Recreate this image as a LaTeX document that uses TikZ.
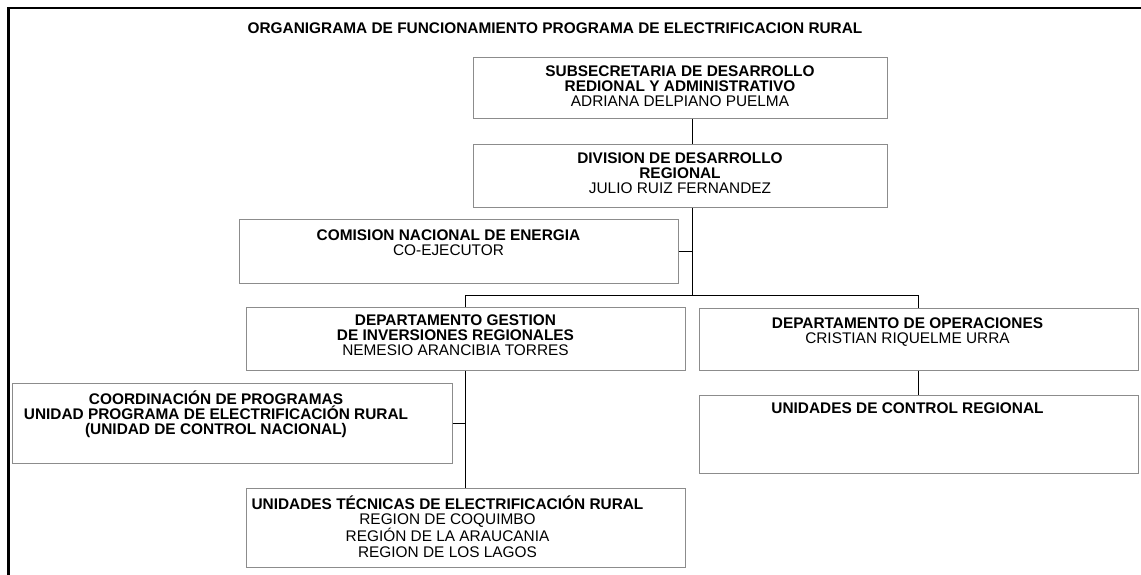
\documentclass[tikz,border=0pt]{standalone}
\usepackage{fontspec}
\setmainfont{Liberation Sans}
\definecolor{boxgray}{RGB}{140,140,140}
\tikzset{
    orgbox/.style 2 args={draw=boxgray, line width=1pt, inner sep=0pt,
        minimum width=#1, minimum height=#2},
    unittext/.style={anchor=north, align=center, inner sep=0pt, yshift=-8pt},
    link/.style={draw, line width=0.9pt},
}
\begin{document}
\begin{tikzpicture}[x=1pt,y=-1pt]
    \useasboundingbox (0,0) rectangle (1141,575);
    \begin{scope}[font=\fontsize{15.4}{15.2}\selectfont]
    % Frame and title:
    \draw [line width=2.4pt] (1141,8) -- (8.5,8) -- (8.5,575);
    \node [inner sep=0pt] (title) at (555,28)
        {\textbf{ORGANIGRAMA DE FUNCIONAMIENTO PROGRAMA DE ELECTRIFICACION RURAL}};

    % Boxes:
    % the text of each box hangs from its top edge as a label
    \node [orgbox={414pt}{61pt}, label={[unittext]north:{\textbf{SUBSECRETARIA DE DESARROLLO}\\
        \textbf{REDIONAL Y ADMINISTRATIVO}\\ ADRIANA DELPIANO PUELMA}}] (subsec) at (680,88.5) {};
    \node [orgbox={414pt}{62pt}, label={[unittext]north:{\textbf{DIVISION DE DESARROLLO}\\
        \textbf{REGIONAL}\\ JULIO RUIZ FERNANDEZ}}] (division) at (680,176) {};
    \node [orgbox={439pt}{64pt}, label={[unittext, xshift=-10pt, yshift=-3pt]north:{\textbf{COMISION NACIONAL DE ENERGIA}\\
        CO-EJECUTOR}}] (comision) at (458.5,251) {};
    \node [orgbox={439pt}{63pt}, label={[unittext, xshift=-10pt]north:{\textbf{DEPARTAMENTO GESTION}\\
        \textbf{DE INVERSIONES REGIONALES}\\ NEMESIO ARANCIBIA TORRES}}] (gestion) at (465.5,338.5) {};
    \node [orgbox={439pt}{62pt}, label={[unittext, xshift=-11pt, yshift=-2pt]north:{\textbf{DEPARTAMENTO DE OPERACIONES}\\
        CRISTIAN RIQUELME URRA}}] (operaciones) at (918.5,339) {};
    \node [orgbox={439pt}{78pt}, label={[unittext, xshift=-11pt]north:{\textbf{UNIDADES DE CONTROL REGIONAL}}}]
        (control) at (918.5,434) {};
    \node [orgbox={440pt}{80pt}, label={[unittext, xshift=-16pt]north:{\textbf{COORDINACIÓN DE PROGRAMAS}\\
        \textbf{UNIDAD PROGRAMA DE ELECTRIFICACIÓN RURAL}\\
        \textbf{(UNIDAD DE CONTROL NACIONAL)}}}] (coordinacion) at (232,423) {};
    \node [orgbox={439pt}{79pt}, label={[unittext, xshift=-18pt]north:{\textbf{UNIDADES TÉCNICAS DE ELECTRIFICACIÓN RURAL}\\
        REGION DE COQUIMBO\\ REGIÓN DE LA ARAUCANIA\\ REGION DE LOS LAGOS}}] (tecnicas) at (465.5,527.5) {};

    % Connectors:
    \coordinate (bus) at (692,295);
    \draw [link] (subsec.south -| bus) -- (division.north -| bus);
    \draw [link] (division.south -| bus) -- (bus);
    \draw [link] (comision.east) -- (comision.east -| bus);
    \draw [link] (gestion.north) |- (operaciones.north |- bus) -- (operaciones.north);
    \draw [link] (operaciones.south) -- (control.north);
    \draw [link] (gestion.south) -- (tecnicas.north);
    \draw [link] (coordinacion.east) -- (coordinacion.east -| gestion.south);
    \end{scope}
\end{tikzpicture}
\end{document}
